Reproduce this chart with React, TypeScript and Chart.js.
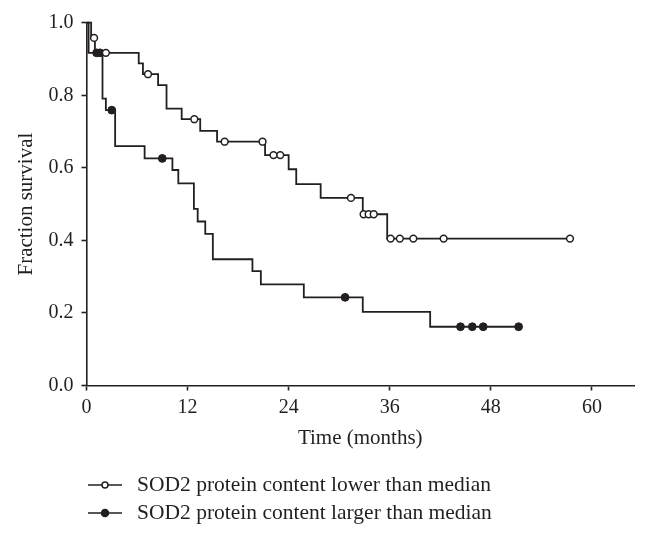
import React, { useEffect, useRef } from "react";
import { Chart, registerables } from "chart.js";

Chart.register(...registerables);

// ---- Data ----
// Group with SOD2 protein content lower than median (open circles)
const lowerStepTimes = [0, 0.55, 1.0, 6.2, 6.7, 8.5, 9.5, 11.3, 13.5, 15.5, 21.2, 24.0, 24.9, 27.8, 32.8, 35.7, 57.4];
const lowerStepSurvival = [1.0, 0.958, 0.917, 0.888, 0.858, 0.828, 0.763, 0.734, 0.702, 0.672, 0.635, 0.596, 0.555, 0.517, 0.472, 0.405, 0.405];
const lowerCensorTimes = [0.9, 2.3, 7.3, 12.8, 16.4, 20.9, 22.2, 23.0, 31.4, 32.9, 33.5, 34.1, 36.1, 37.2, 38.8, 42.4, 57.4];
const lowerCensorSurvival = [0.958, 0.917, 0.858, 0.734, 0.672, 0.672, 0.635, 0.635, 0.517, 0.472, 0.472, 0.472, 0.405, 0.405, 0.405, 0.405, 0.405];

// Group with SOD2 protein content larger than median (filled circles)
const largerStepTimes = [0, 0.25, 1.9, 2.3, 3.4, 6.9, 10.2, 10.9, 12.75, 13.2, 14.1, 15.0, 19.7, 20.7, 25.8, 32.8, 40.8, 51.3];
const largerStepSurvival = [1.0, 0.917, 0.791, 0.759, 0.66, 0.626, 0.594, 0.557, 0.487, 0.452, 0.418, 0.348, 0.315, 0.279, 0.243, 0.203, 0.162, 0.162];
const largerCensorTimes = [1.2, 1.6, 3.0, 9.0, 30.7, 44.4, 45.8, 47.1, 51.3];
const largerCensorSurvival = [0.917, 0.917, 0.759, 0.626, 0.243, 0.162, 0.162, 0.162, 0.162];

const xTickValues = [0, 12, 24, 36, 48, 60];
const yTickValues = [0, 0.2, 0.4, 0.6, 0.8, 1.0];
const legendLabels = [
  "SOD2 protein content lower than median",
  "SOD2 protein content larger than median",
];
const xTitle = "Time (months)";
const yTitle = "Fraction survival";

const INK = "#231f20";
const FONT = "'Liberation Serif', 'Times New Roman', serif";

function pts(xs: number[], ys: number[]) {
  return xs.map((x, i) => ({ x, y: ys[i] }));
}

const legendPlugin = {
  id: "kmLegend",
  afterDraw(chart: any) {
    const ctx = chart.ctx as CanvasRenderingContext2D;
    const rows = [485, 513];
    const fills = ["#ffffff", INK];
    const radii = [3, 3.5];
    ctx.save();
    legendLabels.forEach((label, i) => {
      const y = rows[i];
      ctx.strokeStyle = INK;
      ctx.lineWidth = 1.7;
      ctx.beginPath();
      ctx.moveTo(88, y);
      ctx.lineTo(122, y);
      ctx.stroke();
      ctx.beginPath();
      ctx.arc(105, y, radii[i], 0, Math.PI * 2);
      ctx.fillStyle = fills[i];
      ctx.fill();
      ctx.lineWidth = 1.5;
      ctx.stroke();
      ctx.fillStyle = INK;
      ctx.font = `21.5px ${FONT}`;
      ctx.textAlign = "left";
      ctx.textBaseline = "middle";
      ctx.fillText(label, 137, y);
    });
    ctx.restore();
  },
};

export default function App() {
  const canvasRef = useRef<HTMLCanvasElement | null>(null);

  useEffect(() => {
    document.body.style.margin = "0";
    const canvas = canvasRef.current;
    if (!canvas) return;
    const chart = new Chart(canvas, {
      type: "line",
      data: {
        datasets: [
          {
            label: legendLabels[0] + " censored",
            data: pts(lowerCensorTimes, lowerCensorSurvival),
            showLine: false,
            pointRadius: 3.4,
            pointBorderWidth: 1.5,
            pointBackgroundColor: "#ffffff",
            pointBorderColor: INK,
            order: 0,
            clip: false,
          } as any,
          {
            label: legendLabels[1] + " censored",
            data: pts(largerCensorTimes, largerCensorSurvival),
            showLine: false,
            pointRadius: 3.9,
            pointBorderWidth: 1,
            pointBackgroundColor: INK,
            pointBorderColor: INK,
            order: 0,
            clip: false,
          } as any,
          {
            label: legendLabels[0],
            data: pts(lowerStepTimes, lowerStepSurvival),
            stepped: "before",
            borderColor: INK,
            borderWidth: 1.8,
            pointRadius: 0,
            fill: false,
            order: 1,
            clip: false,
          } as any,
          {
            label: legendLabels[1],
            data: pts(largerStepTimes, largerStepSurvival),
            stepped: "before",
            borderColor: INK,
            borderWidth: 1.8,
            pointRadius: 0,
            fill: false,
            order: 1,
            clip: false,
          } as any,
        ],
      },
      options: {
        responsive: false,
        animation: false,
        layout: { padding: { left: 10, right: 14, top: 22.7, bottom: 82.5 } },
        plugins: {
          legend: { display: false },
          tooltip: { enabled: false },
        },
        scales: {
          x: {
            type: "linear",
            min: 0,
            max: 65,
            afterBuildTicks: (scale: any) => {
              scale.ticks = xTickValues.map((v) => ({ value: v }));
            },
            afterFit: (scale: any) => {
              scale.height = 70;
            },
            border: { display: true, color: INK, width: 1.6 },
            grid: {
              display: true,
              drawOnChartArea: false,
              drawTicks: true,
              tickLength: 5,
              tickColor: INK,
              tickWidth: 1.6,
            },
            ticks: {
              color: INK,
              padding: 5,
              maxRotation: 0,
              font: { family: FONT, size: 20 },
              callback: (v: any) => String(v),
            },
            title: {
              display: true,
              text: xTitle,
              color: INK,
              padding: { top: 0, bottom: 4 },
              font: { family: FONT, size: 21 },
            },
          },
          y: {
            type: "linear",
            min: 0,
            max: 1,
            afterBuildTicks: (scale: any) => {
              scale.ticks = yTickValues.map((v) => ({ value: v }));
            },
            afterFit: (scale: any) => {
              scale.width = 76.5;
            },
            border: { display: true, color: INK, width: 1.6 },
            grid: {
              display: true,
              drawOnChartArea: false,
              drawTicks: true,
              tickLength: 5,
              tickColor: INK,
              tickWidth: 1.6,
            },
            ticks: {
              color: INK,
              padding: 8,
              font: { family: FONT, size: 20 },
              callback: (v: any) => Number(v).toFixed(1),
            },
            title: {
              display: true,
              text: yTitle,
              color: INK,
              padding: { top: 4, bottom: 0 },
              font: { family: FONT, size: 21 },
            },
          },
        },
      },
      plugins: [legendPlugin],
    });
    return () => chart.destroy();
  }, []);

  return (
    <div style={{ position: "fixed", left: 0, top: 0, width: 648, height: 538, background: "#fff" }}>
      <canvas ref={canvasRef} width={648} height={538} />
    </div>
  );
}
